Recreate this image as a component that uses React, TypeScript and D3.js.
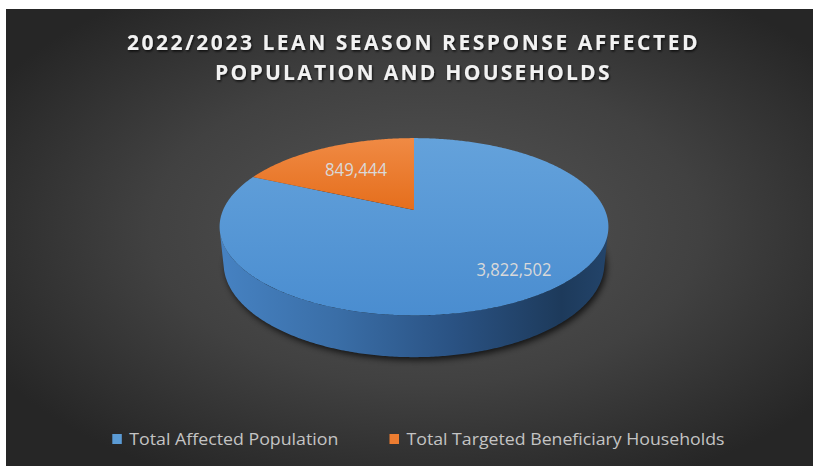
import React from "react";
import * as d3 from "d3";

const categories = ["Total Affected Population", "Total Targeted Beneficiary Households"];
const values = [3822502, 849444];
const colors = ["#5b9bd5", "#ed7d31"];
const titleLines = ["2022/2023 LEAN SEASON RESPONSE AFFECTED", "POPULATION AND HOUSEHOLDS"];

const W = 813;
const H = 467;

export default function App() {
  // 3D camera
  const cx = 414;
  const cyc = 210;
  const k = 903;
  const D = 4.73;
  const alpha = (26.6 * Math.PI) / 180;
  const h = 0.216;
  const ca = Math.cos(alpha);
  const sa = Math.sin(alpha);

  const proj = (X: number, Y: number, Z: number): [number, number] => {
    const up = Y * ca + Z * sa;
    const depth = D + Z * ca - Y * sa;
    return [cx + (k * X) / depth, cyc - (k * up) / depth];
  };
  const onCircle = (a: number, Y: number) => proj(Math.sin(a), Y, Math.cos(a));

  const arcs = d3.pie<number>().sort(null).value((d) => d)(values);
  const line = d3.line<[number, number]>();

  const samples = (a0: number, a1: number, Y: number) => {
    const n = Math.max(8, Math.ceil(Math.abs(a1 - a0) / 0.01));
    const pts: [number, number][] = [];
    for (let i = 0; i <= n; i++) pts.push(onCircle(a0 + ((a1 - a0) * i) / n, Y));
    return pts;
  };

  const topPaths = arcs.map((a) => {
    const pts: [number, number][] = [proj(0, 0, 0), ...samples(a.startAngle, a.endAngle, 0)];
    return line(pts) + "Z";
  });

  // visible side range
  const lim = Math.acos(-1 / (D * ca));
  const aL = lim;
  const aR = 2 * Math.PI - lim;
  const sideTop = samples(aL, aR, 0);
  const sideBot = samples(aL, aR, -h).reverse();
  const sidePath = line([...sideTop, ...sideBot]) + "Z";
  const bottomPath = line(samples(0, 2 * Math.PI, -h)) + "Z";

  const leftX = d3.min(sideTop, (p) => p[0]) as number;
  const rightX = d3.max(sideTop, (p) => p[0]) as number;

  const fmt = d3.format(",");
  const font = "'Open Sans', 'DejaVu Sans', sans-serif";

  return (
    <svg
      width={W}
      height={H}
      style={{ position: "absolute", left: 0, top: 0 }}
      xmlns="http://www.w3.org/2000/svg"
    >
      <defs>
        <radialGradient id="bg" cx="52%" cy="48%" r="62%">
          <stop offset="0" stopColor="#555555" />
          <stop offset="0.55" stopColor="#414141" />
          <stop offset="1" stopColor="#262626" />
        </radialGradient>
        <linearGradient id="topBlue" x1="0" y1="0" x2="0" y2="1">
          <stop offset="0" stopColor="#64a2db" />
          <stop offset="1" stopColor="#4a8dd0" />
        </linearGradient>
        <linearGradient id="topOrange" x1="0" y1="0" x2="0" y2="1">
          <stop offset="0" stopColor="#f08a44" />
          <stop offset="1" stopColor="#e56e1c" />
        </linearGradient>
        <linearGradient id="side" gradientUnits="userSpaceOnUse" x1={leftX} y1="0" x2={rightX} y2="0">
          <stop offset="0" stopColor="#4682c2" />
          <stop offset="0.3" stopColor="#3a6ea7" />
          <stop offset="0.6" stopColor="#2a5283" />
          <stop offset="0.88" stopColor="#1d3a5b" />
          <stop offset="1" stopColor="#23446a" />
        </linearGradient>
        <filter id="blur" x="-20%" y="-20%" width="140%" height="140%">
          <feGaussianBlur stdDeviation="3" />
        </filter>
        <filter id="tshadow" x="-5%" y="-30%" width="110%" height="160%">
          <feDropShadow dx="1" dy="1.5" stdDeviation="1.2" floodColor="#000" floodOpacity="0.75" />
        </filter>
      </defs>

      <rect x={0} y={0} width={W} height={H} fill="#ffffff" />
      <rect x={6} y={9} width={W - 6} height={457} fill="url(#bg)" />

      {titleLines.map((t, i) => (
        <text
          key={i}
          x={413}
          y={49.5 + i * 30.3}
          textAnchor="middle"
          fontFamily={font}
          fontWeight={700}
          fontSize={21}
          fill="#f2f2f2"
          letterSpacing={1.5}
          textLength={i === 0 ? 572 : 396}
          lengthAdjust="spacing"
          filter="url(#tshadow)"
        >
          {t}
        </text>
      ))}

      <g>
        <path d={bottomPath} transform="translate(2,3)" fill="#000" opacity={0.7} filter="url(#blur)" />
        <path d={sidePath} fill="url(#side)" />
        {topPaths.map((p, i) => (
          <path key={i} d={p} fill={i === 0 ? "url(#topBlue)" : "url(#topOrange)"} />
        ))}
      </g>

      {arcs.map((a, i) => (
        <text
          key={i}
          x={i === 0 ? 514 : 356}
          y={i === 0 ? 275.5 : 176}
          textAnchor="middle"
          fontFamily={font}
          fontSize={17.5}
          fill="#d9d9d9"
          textLength={i === 0 ? 75 : 62}
          lengthAdjust="spacingAndGlyphs"
        >
          {fmt(values[i])}
        </text>
      ))}

      {categories.map((c, i) => {
        const x0 = i === 0 ? 112.3 : 389.5;
        return (
          <g key={c}>
            <rect x={x0} y={434} width={9.5} height={10} fill={colors[i]} />
            <text
              x={x0 + 17}
              y={445}
              fontFamily={font}
              fontSize={16.5}
              fill="#c4c4c4"
              textLength={i === 0 ? 209 : 318}
              lengthAdjust="spacingAndGlyphs"
            >
              {c}
            </text>
          </g>
        );
      })}
    </svg>
  );
}
